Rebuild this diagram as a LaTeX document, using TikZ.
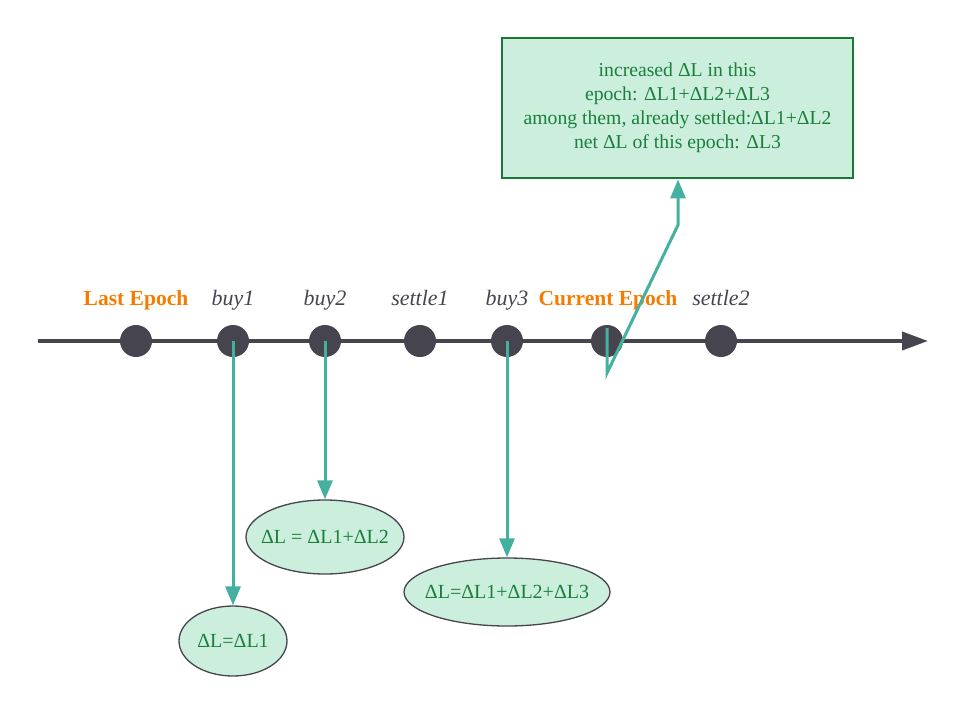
\documentclass[tikz,border=0pt]{standalone}
\usepackage{fontspec}
\setmainfont{Liberation Serif}
\usetikzlibrary{arrows.meta,shapes.geometric}
\definecolor{axisc}{HTML}{46444F}
\definecolor{tealc}{HTML}{45B0A0}
\definecolor{gtext}{HTML}{1A7F3C}
\definecolor{gfill}{HTML}{CCEEDD}
\definecolor{gbox}{HTML}{1A7A35}
\definecolor{orng}{HTML}{F57C00}
\tikzset{
  dot/.style={circle,fill=axisc,minimum size=32pt,inner sep=0pt},
  evlabel/.style={font=\fontsize{22}{24}\selectfont\itshape,text=axisc,anchor=base},
  eplabel/.style={font=\fontsize{21.5}{24}\selectfont\bfseries,text=orng,anchor=base},
  res/.style={ellipse,draw=axisc,line width=1.3pt,fill=gfill,text=gtext,font=\fontsize{20}{22}\selectfont,inner ysep=0pt,inner xsep=-12pt},
  conn/.style={draw=tealc,line width=3pt,-{Triangle[length=19pt,width=15pt]}},
  infobox/.style={draw=gbox,line width=2.8pt,fill=gfill,text=gtext,font=\fontsize{19.7}{24}\selectfont,align=center,minimum width=351pt,minimum height=140pt,inner sep=0pt}
}
\begin{document}
\begin{tikzpicture}[x=1pt,y=-1pt]
\useasboundingbox (0,0) rectangle (955,714);
\coordinate (axs) at (38,341);
\coordinate (axe) at (928,341);
\draw[axisc,line width=4pt,-{Triangle[length=26pt,width=18pt]}] (axs) -- (axe);
\node[dot] (d0) at (136,341) {};
\node[dot] (d1) at (233,341) {};
\node[dot] (d2) at (325,341) {};
\node[dot] (d3) at (420,341) {};
\node[dot] (d4) at (507,341) {};
\node[dot] (d5) at (607,341) {};
\node[dot] (d6) at (721,341) {};
\node[eplabel] (l0) at (136,305) {Last Epoch};
\node[evlabel] (l1) at (233,305) {buy1};
\node[evlabel] (l2) at (325,305) {buy2};
\node[evlabel] (l3) at (420,305) {settle1};
\node[evlabel] (l4) at (507,305) {buy3};
\node[eplabel] (l5) at (608,305) {Current Epoch};
\node[evlabel] (l6) at (721,305) {settle2};
\node[res,minimum width=108pt,minimum height=70pt] (e1) at (233,641) {ΔL=ΔL1};
\node[res,minimum width=158pt,minimum height=74pt] (e2) at (325,537) {ΔL = ΔL1+ΔL2};
\node[res,minimum width=206pt,minimum height=68pt] (e3) at (507,592) {ΔL=ΔL1+ΔL2+ΔL3};
\node[infobox] (box) at (677.5,108) {increased ΔL in this\\epoch: ΔL1+ΔL2+ΔL3\\among them, already settled:ΔL1+ΔL2\\net ΔL of this epoch: ΔL3};
\draw[conn] (d1.center) -- (e1.north);
\draw[conn] (d2.center) -- (e2.north);
\draw[conn] (d4.center) -- (e3.north);
\coordinate (c1) at (607,373);
\coordinate (c2) at (678,225);
\draw[conn,line join=miter] ([yshift=13pt]d5.center) -- (c1) -- (c2) -- (box.south -| c2);
\end{tikzpicture}
\end{document}
